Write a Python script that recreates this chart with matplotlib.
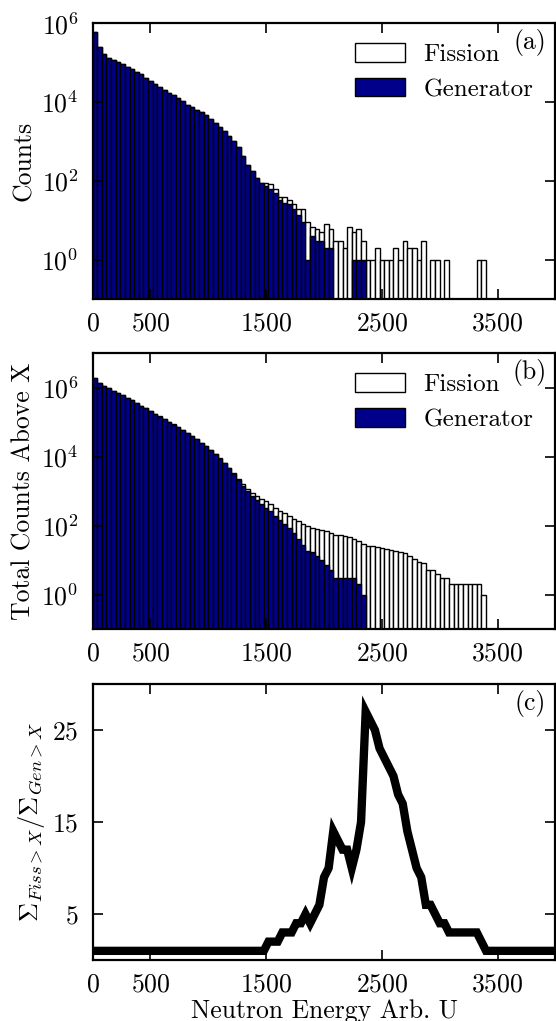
import matplotlib
matplotlib.use('Agg')
import matplotlib.pyplot as plt
import numpy as np

# bin edges in arbitrary energy units (40 wide, 0..4000)
edges = np.arange(0, 4001, 40)

# counts per bin (panel a)
generator = [616000, 251000, 162000, 135000, 120000, 105000, 91000, 78000, 68000, 59000,
             51000, 42000, 35000, 29500, 24000, 20000, 17000, 14800, 12600, 10700,
             8700, 7400, 6300, 5500, 4600, 3700, 3000, 2400, 1900, 1400,
             1050, 710, 420, 260, 180, 120, 89, 76, 63, 50,
             33, 28, 26, 19, 14, 9, 1, 4, 3, 3,
             2, 2, 0, 0, 0, 0, 1, 1, 1, 0] + [0] * 40
fission = [616000, 251000, 162000, 135000, 120000, 105000, 91000, 78000, 68000, 59000,
           51000, 42000, 35000, 29500, 24000, 20000, 17000, 14800, 12600, 10700,
           8700, 7400, 6300, 5500, 4600, 3700, 3000, 2400, 1900, 1400,
           1050, 710, 420, 260, 180, 120, 91, 91, 83, 62,
           40, 40, 33, 26, 19, 19, 9, 7, 6, 5,
           8, 6, 3, 3, 2, 7, 5, 6, 3, 1,
           1, 2, 1, 1, 1, 2, 1, 3, 2, 2,
           1, 3, 0, 1, 1, 0, 1, 0, 0, 0,
           0, 0, 0, 1, 1] + [0] * 15

# panel c: ratio line vertices
ratio_x = [0, 1480, 1520, 1600, 1640, 1720, 1760, 1800, 1840, 1880, 1920, 1960, 2000, 2040,
           2080, 2120, 2160, 2200, 2240, 2280, 2320, 2360, 2400, 2440, 2480, 2520, 2560,
           2600, 2640, 2680, 2720, 2760, 2800, 2840, 2880, 2920, 2960, 3000, 3040, 3080,
           3320, 3360, 3400, 4000]
ratio_y = [1, 1, 2, 2, 3, 3, 4, 4, 5, 4, 5, 6, 9, 10,
           14, 13, 12, 12, 10, 12, 15, 27, 26, 25, 23, 22, 21,
           20, 18, 17, 14, 12, 10, 9, 6, 6, 5, 4, 4, 3,
           3, 2, 1, 1]

generator = np.array(generator, dtype=float)
fission = np.array(fission, dtype=float)
gen_above = np.cumsum(generator[::-1])[::-1]
fiss_above = np.cumsum(fission[::-1])[::-1]

plt.rcParams.update({
    'font.family': 'cmr10',
    'mathtext.fontset': 'cm',
    'axes.unicode_minus': False,
    'axes.formatter.use_mathtext': True,
    'font.size': 18.5,
    'legend.fontsize': 18,
    'axes.linewidth': 1.6,
    'xtick.direction': 'in',
    'ytick.direction': 'in',
    'xtick.top': True,
    'ytick.right': True,
    'xtick.major.size': 7.5,
    'ytick.major.size': 7.5,
    'xtick.minor.size': 3.5,
    'ytick.minor.size': 3.5,
    'xtick.major.width': 1.2,
    'ytick.major.width': 1.2,
    'xtick.major.pad': 9,
    'ytick.major.pad': 10,
})

blue = '#00008B'
left = edges[:-1]

fig = plt.figure(figsize=(5.56, 10.21), dpi=100)
ax1 = fig.add_axes([0.1664, 0.7069, 0.8327, 0.2703])
ax2 = fig.add_axes([0.1664, 0.3839, 0.8327, 0.2700])
ax3 = fig.add_axes([0.1664, 0.0597, 0.8327, 0.2703])


def hist_panel(ax, fvals, gvals, tag, ylabel, ymax):
    m = fvals > 0
    ax.bar(left[m], fvals[m], width=40, align='edge', color='white',
           edgecolor='black', linewidth=1.0, label='Fission')
    m = gvals > 0
    ax.bar(left[m], gvals[m], width=40, align='edge', color=blue,
           edgecolor='black', linewidth=1.0, label='Generator')
    ax.set_yscale('log')
    ax.set_ylim(0.1, ymax)
    ax.set_xlim(0, 4000)
    ax.set_xticks([0, 500, 1500, 2500, 3500])
    ax.set_ylabel(ylabel)
    ax.legend(loc='upper right', bbox_to_anchor=(0.995, 1.0), frameon=False,
              handlelength=2.0, handleheight=0.75, handletextpad=0.75,
              labelspacing=0.48, borderpad=0.3)
    ax.text(0.945, 0.93, tag, transform=ax.transAxes, ha='center', va='center')


hist_panel(ax1, fission, generator, '(a)', 'Counts', 1e6)
hist_panel(ax2, fiss_above, gen_above, '(b)', 'Total Counts Above X', 1e7)
ax1.set_yticks([1, 100, 1e4, 1e6])
ax2.set_yticks([1, 100, 1e4, 1e6])

ax3.plot(ratio_x, ratio_y, 'k-', linewidth=6, solid_joinstyle='miter')
ax3.set_xlim(0, 4000)
ax3.set_ylim(0, 30)
ax3.set_xticks([0, 500, 1500, 2500, 3500])
ax3.set_yticks([5, 15, 25])
ax3.set_xlabel('Neutron Energy Arb. U', labelpad=2)
ax3.set_ylabel(r'$\Sigma_{Fiss>X}/\Sigma_{Gen>X}$', fontsize=19)
ax3.text(0.945, 0.93, '(c)', transform=ax3.transAxes, ha='center', va='center')

fig.savefig('out.png', dpi=100)
